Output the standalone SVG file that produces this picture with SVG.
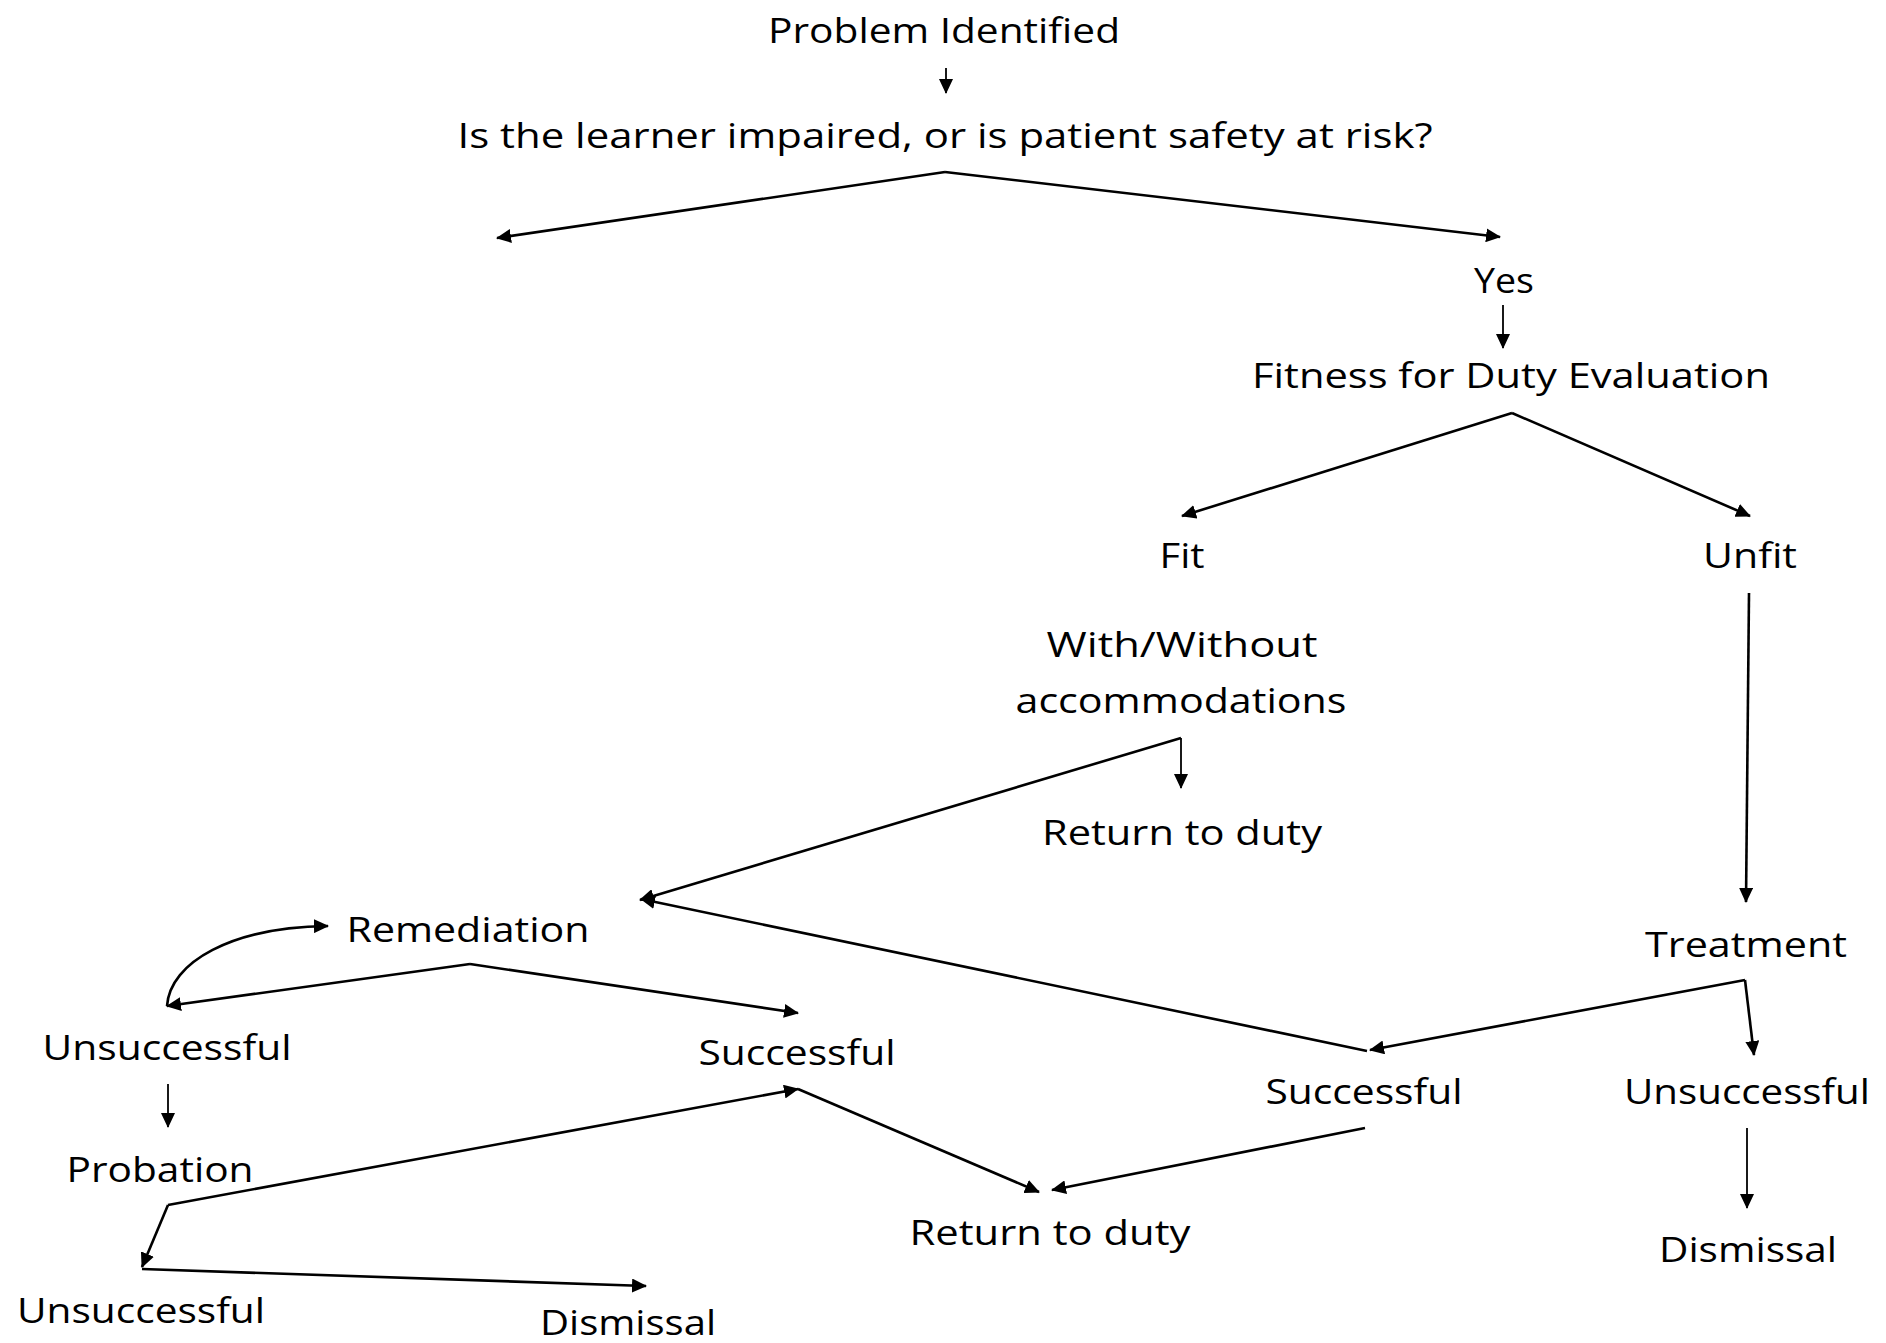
<svg xmlns="http://www.w3.org/2000/svg" width="1886" height="1343" viewBox="0 0 1886 1343">
  <defs>
    <style>
      .lbl { font-family: "Open Sans", "Noto Sans", "Liberation Sans", sans-serif; font-size: 35px; fill: #000; text-anchor: middle; }
      .ln { fill: none; stroke: #000; stroke-width: 2.6; marker-end: url(#ah); }
      .thin { stroke-width: 1.8; }
    </style>
    <marker id="ah" markerUnits="userSpaceOnUse" markerWidth="16" markerHeight="14" refX="14" refY="7" orient="auto">
      <path d="M0,0 L15,7 L0,14 z" fill="#000"/>
    </marker>
  </defs>
  <rect width="1886" height="1343" fill="#fff"/>

  <!-- connectors -->
  <g id="connectors">
    <line class="ln thin" x1="946" y1="68" x2="946" y2="93"/>
    <line class="ln" x1="945" y1="172" x2="497" y2="238"/>
    <line class="ln" x1="945" y1="172" x2="1500" y2="237"/>
    <line class="ln thin" x1="1503" y1="305" x2="1503" y2="348"/>
    <line class="ln" x1="1512" y1="413" x2="1182" y2="516"/>
    <line class="ln" x1="1512" y1="413" x2="1750" y2="516"/>
    <line class="ln thin" x1="1181" y1="738" x2="1181" y2="788"/>
    <line class="ln" x1="1181" y1="738" x2="640" y2="900"/>
    <line class="ln" x1="1749" y1="593" x2="1746" y2="902"/>
    <line class="ln" x1="1745" y1="980" x2="1370" y2="1050"/>
    <line class="ln" x1="1745" y1="980" x2="1754" y2="1055"/>
    <line class="ln" x1="1367" y1="1051" x2="641" y2="899"/>
    <line class="ln" x1="1365" y1="1128" x2="1052" y2="1190"/>
    <line class="ln thin" x1="1747" y1="1128" x2="1747" y2="1208"/>
    <line class="ln" x1="470" y1="964" x2="167" y2="1006"/>
    <line class="ln" x1="470" y1="964" x2="798" y2="1013"/>
    <path class="ln" d="M167,1006 C170,962 232,927 328,926"/>
    <line class="ln thin" x1="168" y1="1084" x2="168" y2="1127"/>
    <line class="ln" x1="168" y1="1205" x2="798" y2="1089"/>
    <line class="ln" x1="168" y1="1205" x2="142" y2="1267"/>
    <line class="ln" x1="142" y1="1269" x2="646" y2="1286"/>
    <line class="ln" x1="798" y1="1089" x2="1039" y2="1192"/>
  </g>

  <!-- nodes -->
  <g id="n-problem"><text class="lbl" x="944" y="43" textLength="352" lengthAdjust="spacingAndGlyphs">Problem Identified</text></g>
  <g id="n-question"><text class="lbl" x="945" y="148" textLength="975" lengthAdjust="spacingAndGlyphs">Is the learner impaired, or is patient safety at risk?</text></g>
  <g id="n-yes"><text class="lbl" x="1504" y="293" textLength="60" lengthAdjust="spacingAndGlyphs">Yes</text></g>
  <g id="n-fitness"><text class="lbl" x="1511" y="388" textLength="518" lengthAdjust="spacingAndGlyphs">Fitness for Duty Evaluation</text></g>
  <g id="n-fit"><text class="lbl" x="1182" y="568" textLength="45" lengthAdjust="spacingAndGlyphs">Fit</text></g>
  <g id="n-unfit"><text class="lbl" x="1750" y="568" textLength="94" lengthAdjust="spacingAndGlyphs">Unfit</text></g>
  <g id="n-accommodations">
    <text class="lbl" x="1182" y="657" textLength="271" lengthAdjust="spacingAndGlyphs">With/Without</text>
    <text class="lbl" x="1181" y="713" textLength="331" lengthAdjust="spacingAndGlyphs">accommodations</text>
  </g>
  <g id="n-return-1"><text class="lbl" x="1182" y="845" textLength="280" lengthAdjust="spacingAndGlyphs">Return to duty</text></g>
  <g id="n-treatment"><text class="lbl" x="1746" y="957" textLength="202" lengthAdjust="spacingAndGlyphs">Treatment</text></g>
  <g id="n-treat-success"><text class="lbl" x="1364" y="1104" textLength="197" lengthAdjust="spacingAndGlyphs">Successful</text></g>
  <g id="n-treat-fail"><text class="lbl" x="1747" y="1104" textLength="246" lengthAdjust="spacingAndGlyphs">Unsuccessful</text></g>
  <g id="n-dismissal-1"><text class="lbl" x="1748" y="1262" textLength="178" lengthAdjust="spacingAndGlyphs">Dismissal</text></g>
  <g id="n-return-2"><text class="lbl" x="1050" y="1245" textLength="281" lengthAdjust="spacingAndGlyphs">Return to duty</text></g>
  <g id="n-remediation"><text class="lbl" x="468" y="942" textLength="243" lengthAdjust="spacingAndGlyphs">Remediation</text></g>
  <g id="n-rem-fail"><text class="lbl" x="167" y="1060" textLength="249" lengthAdjust="spacingAndGlyphs">Unsuccessful</text></g>
  <g id="n-rem-success"><text class="lbl" x="797" y="1065" textLength="197" lengthAdjust="spacingAndGlyphs">Successful</text></g>
  <g id="n-probation"><text class="lbl" x="160" y="1182" textLength="187" lengthAdjust="spacingAndGlyphs">Probation</text></g>
  <g id="n-prob-fail"><text class="lbl" x="141" y="1323" textLength="248" lengthAdjust="spacingAndGlyphs">Unsuccessful</text></g>
  <g id="n-dismissal-2"><text class="lbl" x="628" y="1335" textLength="176" lengthAdjust="spacingAndGlyphs">Dismissal</text></g>
</svg>
